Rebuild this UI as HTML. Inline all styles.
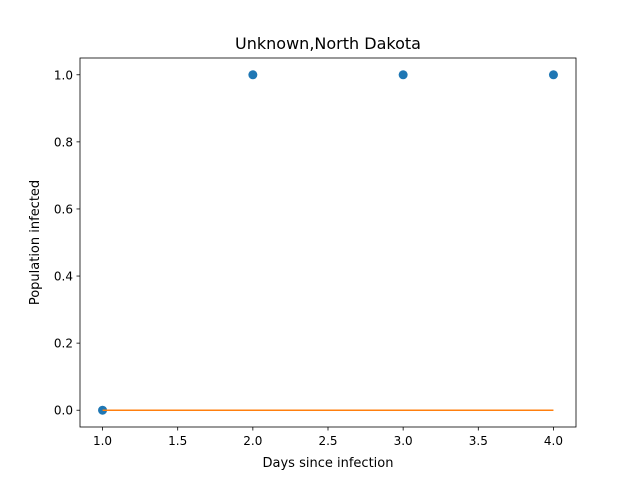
<!DOCTYPE html>
<html><head><meta charset="utf-8"><style>body{margin:0;background:#fff}svg{display:block}text{font-family:"DejaVu Sans","Liberation Sans",sans-serif}</style></head>
<body>
<svg id="chart" width="640" height="480"></svg>
<script>
const xVals=[1,2,3,4];
const yVals=[0,1,1,1];
const fitVals=[0,0,0,0];
const xTicks=[1.0,1.5,2.0,2.5,3.0,3.5,4.0];
const yTicks=[0.0,0.2,0.4,0.6,0.8,1.0];
const NS="http://www.w3.org/2000/svg";
const svg=document.getElementById('chart');
const L=80,R=576,T=58,B=427;
const xmin=0.85,xmax=4.15,ymin=-0.05,ymax=1.05;
const sx=v=>L+(v-xmin)/(xmax-xmin)*(R-L);
const sy=v=>B-(v-ymin)/(ymax-ymin)*(B-T);
function mk(tag,attrs,txt){const e=document.createElementNS(NS,tag);for(const k in attrs)e.setAttribute(k,attrs[k]);if(txt!==undefined)e.textContent=txt;svg.appendChild(e);return e;}
let e;
e=mk('text',{x:328,y:49,'text-anchor':'middle','font-size':16},'Unknown,North Dakota');


xTicks.forEach(t=>{const x=sx(t);
e=mk('line',{x1:x,x2:x,y1:B,y2:B+3.5,stroke:'#000','stroke-width':0.8});


e=mk('text',{x:x,y:B+18,'text-anchor':'middle','font-size':12},t.toFixed(1));

});
yTicks.forEach(t=>{const y=sy(t);
e=mk('line',{x1:L-3.5,x2:L,y1:y,y2:y,stroke:'#000','stroke-width':0.8});


e=mk('text',{x:L-7,y:y+4.5,'text-anchor':'end','font-size':12},t.toFixed(1));

});
e=mk('text',{x:328,y:467,'text-anchor':'middle','font-size':13},'Days since infection');


e=mk('text',{x:0,y:0,'text-anchor':'middle','font-size':13,transform:'translate(39,242.5) rotate(-90)'},'Population infected');


xVals.forEach((v,i)=>{e=mk('circle',{cx:sx(v),cy:sy(yVals[i]),r:4.5,fill:'#1f77b4'});

});
e=mk('polyline',{points:xVals.map((v,i)=>sx(v)+','+sy(fitVals[i])).join(' '),fill:'none',stroke:'#ff7f0e','stroke-width':1.5});


e=mk('rect',{x:L,y:T,width:R-L,height:B-T,fill:'none',stroke:'#000','stroke-width':0.8});


</script>
</body></html>
